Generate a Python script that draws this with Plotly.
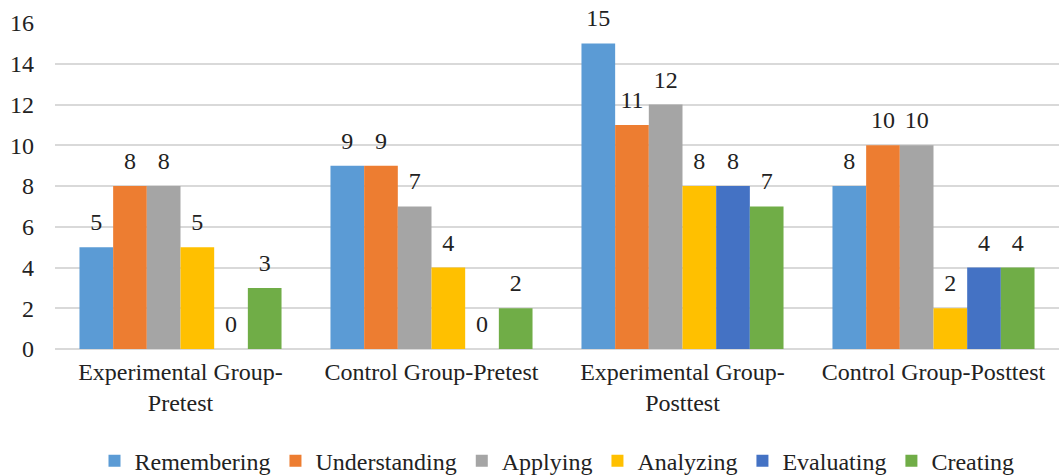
import plotly.graph_objects as go

categories = ["Experimental Group-<br>Pretest", "Control Group-Pretest",
              "Experimental Group-<br>Posttest", "Control Group-Posttest"]
remembering = [5, 9, 15, 8]
understanding = [8, 9, 11, 10]
applying = [8, 7, 12, 10]
analyzing = [5, 4, 8, 2]
evaluating = [0, 0, 8, 4]
creating = [3, 2, 7, 4]

series = [
    ("Remembering", remembering, "#5B9BD5"),
    ("Understanding", understanding, "#ED7D31"),
    ("Applying", applying, "#A5A5A5"),
    ("Analyzing", analyzing, "#FFC000"),
    ("Evaluating", evaluating, "#4472C4"),
    ("Creating", creating, "#70AD47"),
]

FONT = "Liberation Serif, Times New Roman, serif"
FS = 24
GAP = 0.195
fig = go.Figure()
for i, (name, vals, color) in enumerate(series):
    fig.add_trace(go.Bar(
        name=name, x=categories, y=vals, offsetgroup=str(i),
        marker=dict(color=color, line=dict(width=0)),
    ))
for i, (name, vals, color) in enumerate(series):
    fig.add_trace(go.Scatter(
        x=categories, y=vals, mode="markers+text", offsetgroup=str(i),
        text=[str(v) for v in vals], textposition="top center",
        marker=dict(size=16, color="rgba(0,0,0,0)", line=dict(width=0)),
        textfont=dict(family=FONT, size=FS, color="#222"),
        showlegend=False, hoverinfo="skip", cliponaxis=False,
    ))

fig.update_layout(
    width=1059, height=476,
    barmode="group", bargap=GAP, bargroupgap=0,
    scattermode="group", scattergap=GAP,
    margin=dict(l=55, r=0, t=23, b=127, autoexpand=False),
    paper_bgcolor="white", plot_bgcolor="white",
    font=dict(family=FONT, size=FS, color="#222"),
    showlegend=True,
    legend=dict(orientation="h", x=0.5, xanchor="center", y=-0.275, yanchor="top",
                font=dict(family=FONT, size=FS, color="#222"),
                tracegroupgap=0),
)
fig.update_yaxes(range=[0, 16], dtick=2, showgrid=True, gridcolor="#D9D9D9", gridwidth=1.5,
                 zeroline=True, zerolinecolor="#D9D9D9", zerolinewidth=1.5,
                 showline=False, ticks="", ticklabelstandoff=20, automargin=False,
                 tickfont=dict(family=FONT, size=FS, color="#222"))
fig.update_xaxes(showline=False, ticks="", ticklabelstandoff=6, automargin=False,
                 tickfont=dict(family=FONT, size=FS, color="#222"))

fig.write_html("out.html", config={"displayModeBar": False},
               post_script="document.body.style.margin='0';")
